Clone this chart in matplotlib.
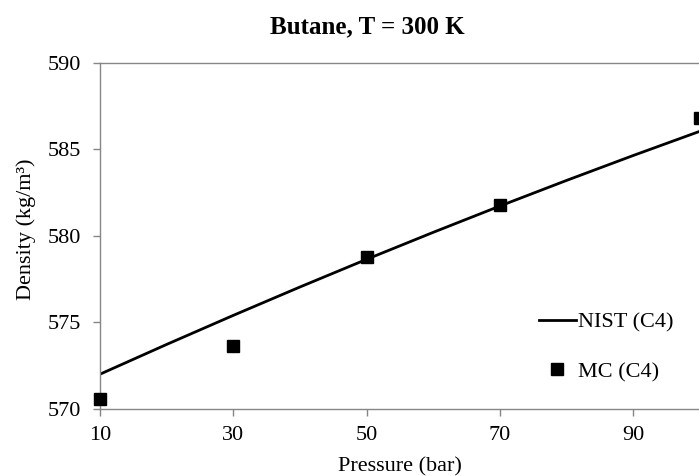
import numpy as np
import matplotlib
matplotlib.use("Agg")
import matplotlib.pyplot as plt

# NIST reference density for butane at 300 K
nist_pressure = [10, 20, 30, 40, 50, 60, 70, 80, 90, 100]
nist_density = [572.0, 573.72, 575.4, 577.04, 578.64, 580.2, 581.72, 583.2, 584.64, 586.04]

# Monte Carlo results
mc_pressure = [10, 30, 50, 70, 100]
mc_density = [570.55, 573.65, 578.8, 581.77, 586.79]

x_ticks = [10, 30, 50, 70, 90]
y_ticks = [570, 575, 580, 585, 590]

plt.rcParams["font.family"] = ["Liberation Serif", "DejaVu Serif"]

W, H = 699, 476
fig = plt.figure(figsize=(W / 100, H / 100), dpi=100)
# plot area runs past the right edge of the figure
ax = fig.add_axes([100 / W, 1 - 408.8 / H, 666.7 / W, (408.8 - 62.7) / H])

ax.plot(nist_pressure, nist_density, color="black", lw=2.0, label="NIST (C4)", zorder=2)
ax.plot(mc_pressure, mc_density, ls="none", marker="s", ms=9, color="black",
        label="MC (C4)", clip_on=False, zorder=3)

ax.set_xlim(10, 110)
ax.set_ylim(570, 590)
ax.set_xticks(x_ticks)
ax.set_yticks(y_ticks)

spine_col = "#868686"
for side in ["left", "bottom", "top"]:
    ax.spines[side].set_color(spine_col)
    ax.spines[side].set_linewidth(1.0)
ax.spines["right"].set_visible(False)
ax.tick_params(axis="both", direction="out", length=5, width=1.0, color=spine_col,
               labelsize=16, labelcolor="black")
ax.tick_params(axis="x", pad=7.2)
ax.tick_params(axis="y", pad=8.6)

fig.text(367 / W, 1 - 33.3 / H, "Butane, T = 300 K", ha="center", va="baseline",
         fontsize=18, fontweight="bold")
fig.text(400 / W, 1 - 471.7 / H, "Pressure (bar)", ha="center", va="baseline", fontsize=16)
fig.text(26 / W, 1 - 229 / H, "Density (kg/m³)", ha="center", va="center",
         rotation=90, fontsize=16)

ax.legend(loc="upper left", bbox_to_anchor=(539 / W, 1 - 312 / H),
          bbox_transform=fig.transFigure, frameon=False, fontsize=16,
          handlelength=1.65, handletextpad=0.1, labelspacing=1.3,
          borderpad=0, borderaxespad=0, markerscale=1.0)

fig.savefig("out.png", dpi=100)
